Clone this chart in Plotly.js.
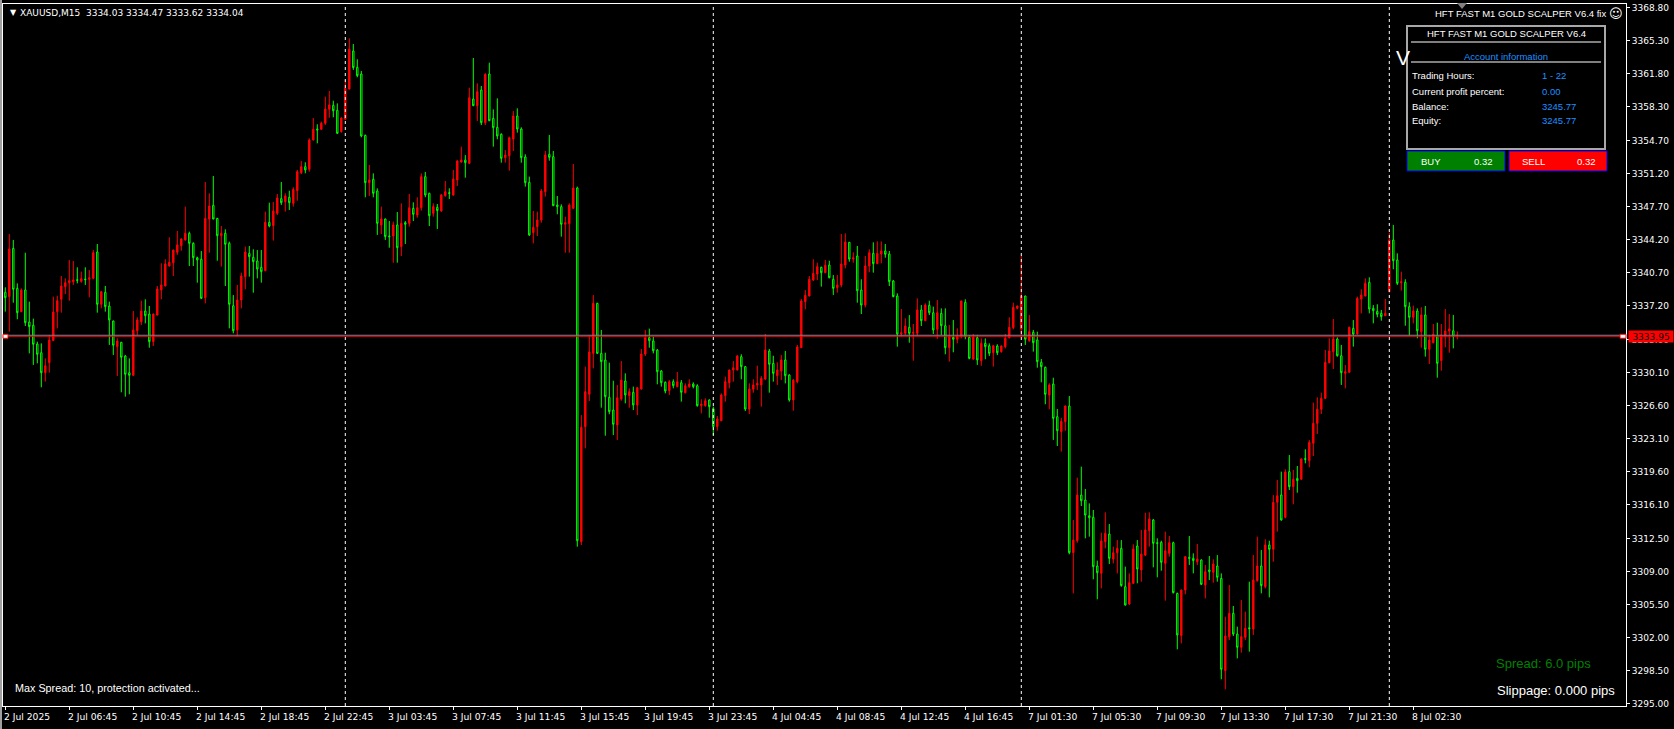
<!DOCTYPE html>
<html><head><meta charset="utf-8">
<script src="https://cdn.plot.ly/plotly-3.0.1.min.js"></script>
<style>html,body{margin:0;padding:0;background:#000;overflow:hidden}#chart{width:1674px;height:729px}</style>
</head><body><div id="chart"></div>
<script>
// XAUUSD M15 candles (bar index 0 = first visible bar)
const barOpen = [
3338.61,3338.15,3343.27,3339.03,3336.56,3338.86,3335.46,3335.11,3333.13,3332.21,
3330.09,3331.15,3333.49,3336.56,3337.87,3339.21,3339.63,3339.74,3339.95,3339.77,
3340.02,3339.99,3340.09,3342.88,3337.34,3338.61,3337.16,3335.57,3332.85,3333.31,
3331.86,3330.09,3329.81,3334.54,3335.50,3336.63,3336.31,3333.38,3336.20,3338.86,
3339.28,3341.40,3341.75,3342.85,3343.55,3344.16,3344.86,3343.80,3342.28,3342.11,
3338.04,3346.38,3347.83,3346.45,3344.61,3344.86,3343.80,3337.19,3334.62,3337.79,
3340.27,3342.74,3342.32,3341.93,3341.26,3340.90,3346.03,3345.67,3346.98,3348.54,
3348.22,3348.68,3348.04,3349.38,3351.29,3351.93,3351.65,3354.76,3355.92,3355.89,
3356.52,3358.01,3358.43,3357.90,3355.64,3356.95,3360.16,3364.19,3362.46,3361.75,
3355.25,3350.23,3350.59,3349.35,3345.75,3346.38,3344.58,3344.58,3345.75,3343.45,
3345.99,3345.92,3347.51,3346.80,3347.58,3350.87,3349.10,3346.98,3347.62,3347.23,
3348.85,3349.17,3348.92,3350.52,3352.42,3352.63,3352.28,3359.10,3358.39,3360.05,
3356.59,3361.75,3357.05,3356.10,3355.36,3352.88,3353.09,3354.86,3357.30,3355.92,
3352.95,3350.27,3344.93,3345.57,3346.27,3349.28,3353.24,3352.99,3347.86,3347.69,
3345.82,3345.89,3347.51,3349.67,3312.18,3324.37,3327.80,3332.14,3337.44,3332.14,
3331.43,3327.48,3326.13,3324.55,3327.30,3329.21,3327.66,3328.01,3326.67,3328.36,
3332.07,3333.80,3333.45,3332.49,3330.27,3329.07,3328.19,3329.14,3328.61,3329.03,
3327.97,3328.61,3328.89,3328.71,3326.59,3326.59,3327.19,3326.28,3324.37,3325.00,
3327.66,3329.03,3330.38,3330.38,3331.79,3330.73,3326.24,3328.33,3328.79,3328.79,
3329.42,3332.39,3331.08,3329.77,3330.27,3331.44,3329.84,3327.20,3329.14,3332.74,
3337.62,3338.22,3339.91,3340.55,3341.26,3340.69,3341.50,3339.99,3339.10,3339.39,
3341.50,3343.91,3342.14,3342.46,3338.85,3337.26,3341.40,3342.74,3341.65,3342.67,
3342.99,3342.67,3339.81,3338.22,3334.19,3334.26,3334.90,3334.26,3334.26,3336.74,
3335.60,3337.23,3336.45,3334.69,3336.38,3335.07,3332.74,3333.84,3333.63,3333.91,
3337.55,3333.84,3331.54,3333.80,3331.36,3333.20,3332.95,3332.21,3332.92,3332.32,
3332.85,3333.80,3334.86,3336.91,3334.72,3338.22,3333.48,3334.37,3333.56,3331.19,
3330.66,3327.72,3328.89,3325.43,3323.84,3324.90,3326.56,3311.01,3312.28,3317.12,
3316.59,3314.93,3314.76,3309.60,3308.82,3312.18,3312.99,3310.34,3311.01,3311.47,
3307.41,3305.57,3307.76,3311.72,3309.18,3310.76,3313.35,3314.48,3312.07,3312.11,
3309.88,3310.94,3312.07,3306.70,3302.22,3307.05,3310.52,3310.41,3310.06,3310.24,
3307.59,3309.18,3308.93,3309.60,3308.29,3298.51,3302.11,3304.58,3302.39,3300.98,
3302.04,3303.06,3302.92,3308.04,3309.60,3307.41,3311.83,3311.37,3316.35,3317.13,
3314.76,3319.60,3318.01,3318.89,3318.79,3320.98,3320.76,3322.60,3324.72,3326.21,
3327.37,3331.15,3332.32,3333.66,3331.89,3330.02,3330.13,3334.79,3334.19,3337.90,
3338.22,3339.67,3336.91,3336.59,3336.38,3336.13,3338.68,3344.15,3342.04,3339.63,
3339.67,3337.09,3335.96,3336.63,3334.44,3336.21,3332.57,3333.27,3334.01,3331.37,
3333.91,3334.51,3334.54,3334.03];
const barHigh = [
3339.14,3344.79,3344.16,3339.56,3339.03,3342.81,3337.62,3335.82,3333.38,3333.20,
3331.61,3334.09,3338.15,3338.25,3340.34,3340.09,3342.04,3341.93,3341.26,3340.80,
3341.26,3340.97,3343.09,3343.73,3338.70,3339.28,3337.62,3335.60,3333.73,3333.35,
3331.97,3331.61,3336.63,3335.96,3337.72,3337.87,3337.16,3336.35,3339.28,3341.68,
3342.11,3344.44,3343.12,3345.11,3344.33,3347.69,3345.04,3343.91,3342.39,3342.99,
3350.30,3349.10,3350.94,3346.50,3345.64,3345.29,3343.98,3338.32,3339.39,3340.69,
3343.45,3343.52,3343.17,3343.09,3343.09,3347.16,3348.11,3348.18,3349.03,3350.30,
3349.10,3349.38,3349.74,3351.58,3352.53,3352.39,3354.93,3357.09,3356.42,3356.70,
3359.35,3359.95,3358.92,3358.64,3357.16,3361.12,3365.53,3364.93,3363.31,3362.07,
3355.32,3352.11,3351.22,3349.63,3347.69,3346.42,3346.17,3346.10,3347.12,3348.04,
3346.17,3349.03,3348.15,3348.68,3351.22,3351.36,3349.17,3348.04,3347.97,3349.03,
3350.41,3349.63,3351.58,3352.63,3354.05,3353.16,3360.30,3363.45,3360.76,3360.48,
3361.82,3362.95,3358.00,3359.17,3355.46,3353.69,3355.11,3357.83,3358.11,3356.10,
3353.24,3350.87,3347.23,3347.16,3349.56,3353.59,3355.29,3353.59,3348.82,3347.93,
3346.63,3348.04,3352.21,3349.81,3325.60,3330.73,3334.08,3338.32,3337.50,3334.62,
3332.21,3331.15,3329.24,3328.78,3331.33,3330.02,3328.43,3328.61,3328.55,3332.60,
3334.62,3334.76,3333.91,3332.60,3330.37,3329.17,3329.31,3329.38,3330.16,3329.31,
3328.96,3329.38,3329.07,3328.86,3327.27,3327.37,3327.27,3326.49,3325.50,3327.90,
3329.67,3330.42,3331.33,3331.96,3332.04,3330.80,3328.96,3329.39,3330.83,3329.74,
3334.19,3332.60,3331.89,3331.19,3331.96,3332.39,3329.92,3329.42,3333.03,3337.90,
3338.85,3340.34,3342.11,3341.75,3341.33,3342.04,3341.96,3340.44,3340.44,3344.79,
3344.86,3343.95,3342.85,3343.52,3339.99,3342.46,3343.17,3343.91,3344.01,3344.01,
3343.73,3342.99,3339.91,3338.50,3336.84,3335.85,3336.20,3335.25,3337.97,3337.26,
3337.44,3337.72,3337.09,3337.79,3336.91,3336.91,3335.14,3335.67,3334.79,3337.72,
3337.87,3334.09,3334.19,3334.09,3333.73,3333.73,3333.20,3333.03,3333.10,3332.99,
3334.19,3335.96,3337.51,3337.20,3342.49,3338.25,3336.20,3334.62,3334.44,3331.54,
3330.73,3328.96,3329.56,3326.24,3325.32,3326.60,3327.62,3314.48,3318.96,3320.13,
3317.76,3316.24,3315.54,3310.17,3313.13,3315.29,3314.05,3311.65,3312.35,3312.35,
3309.53,3308.82,3311.90,3312.35,3313.42,3315.25,3315.29,3314.58,3312.53,3312.28,
3313.24,3312.78,3312.18,3306.77,3307.10,3310.66,3312.78,3310.94,3311.93,3310.30,
3309.71,3310.66,3310.31,3310.76,3308.82,3304.23,3307.59,3305.36,3303.17,3306.00,
3304.76,3307.94,3310.76,3312.71,3311.29,3312.43,3312.28,3317.13,3318.72,3319.60,
3319.85,3321.37,3319.78,3320.20,3321.01,3321.97,3322.95,3326.91,3327.48,3327.97,
3332.50,3333.73,3335.78,3333.84,3333.03,3330.90,3334.97,3335.67,3338.15,3338.93,
3340.09,3340.20,3337.26,3337.34,3336.74,3337.90,3344.93,3345.75,3342.74,3340.80,
3339.99,3337.55,3337.20,3336.91,3337.02,3337.16,3334.09,3335.25,3335.39,3335.25,
3336.84,3336.31,3336.21,3334.47];
const barLow = [
3336.56,3334.44,3337.51,3335.75,3336.50,3335.04,3332.14,3330.91,3331.08,3328.54,
3329.14,3330.09,3333.45,3334.79,3336.45,3338.43,3337.72,3339.39,3339.56,3339.63,
3339.39,3338.08,3339.99,3336.45,3336.91,3336.56,3333.03,3331.97,3329.74,3328.01,
3327.55,3327.80,3329.75,3334.09,3335.15,3335.32,3332.74,3332.92,3336.15,3337.87,
3339.25,3341.35,3340.34,3342.57,3343.02,3344.10,3341.40,3341.40,3339.63,3337.92,
3337.44,3342.81,3346.35,3341.96,3341.33,3339.28,3334.79,3334.26,3333.91,3336.91,
3338.93,3340.27,3338.57,3340.09,3339.63,3340.85,3345.50,3344.09,3346.80,3347.87,
3347.16,3347.34,3347.69,3348.32,3351.15,3351.22,3351.40,3354.70,3354.40,3355.82,
3356.35,3357.12,3357.16,3355.42,3355.53,3356.90,3360.10,3362.18,3361.40,3355.04,
3348.68,3348.82,3348.68,3344.69,3344.79,3344.16,3343.34,3341.75,3341.75,3342.46,
3343.73,3345.57,3346.17,3346.52,3347.27,3348.68,3345.64,3346.63,3345.32,3347.16,
3348.75,3348.50,3348.85,3349.88,3352.35,3350.76,3352.20,3358.35,3356.77,3356.34,
3356.34,3356.75,3354.05,3354.83,3352.35,3352.35,3351.50,3353.59,3355.53,3352.35,
3349.81,3344.58,3343.80,3344.58,3345.99,3348.75,3352.56,3347.75,3346.88,3344.51,
3342.81,3342.81,3347.45,3311.65,3311.82,3322.07,3327.09,3330.55,3332.07,3326.38,
3323.41,3325.68,3323.48,3322.96,3327.12,3326.84,3326.38,3326.13,3325.60,3328.30,
3331.86,3332.74,3332.14,3328.86,3328.61,3327.90,3327.73,3328.43,3328.55,3327.02,
3327.90,3328.50,3328.43,3326.49,3325.78,3326.49,3325.32,3323.48,3323.94,3324.95,
3327.02,3328.43,3329.14,3330.33,3329.39,3326.03,3325.71,3327.97,3328.26,3326.49,
3329.31,3327.97,3329.14,3328.79,3329.31,3328.96,3327.02,3326.06,3328.96,3332.70,
3336.81,3338.18,3339.81,3339.91,3339.21,3340.65,3340.09,3338.33,3338.57,3339.14,
3341.15,3341.86,3341.75,3337.51,3336.31,3337.02,3340.73,3340.69,3341.60,3341.68,
3342.28,3339.28,3338.08,3332.85,3333.91,3334.09,3333.27,3331.36,3333.98,3335.04,
3335.57,3336.20,3334.19,3333.66,3334.09,3332.04,3331.26,3332.25,3333.20,3333.73,
3333.63,3331.51,3331.44,3330.91,3330.83,3331.51,3331.86,3330.73,3331.96,3332.21,
3332.67,3333.73,3334.69,3336.81,3333.80,3333.03,3333.38,3332.32,3330.62,3329.07,
3326.74,3326.21,3322.96,3322.32,3321.72,3323.94,3310.84,3306.70,3312.07,3315.96,
3312.53,3312.71,3308.19,3306.07,3307.23,3311.47,3309.81,3309.88,3308.82,3307.41,
3305.40,3305.47,3307.70,3307.76,3307.94,3310.66,3311.65,3309.46,3308.40,3309.10,
3305.93,3310.59,3306.70,3300.77,3301.40,3306.60,3309.71,3308.82,3309.71,3307.59,
3306.17,3308.11,3307.83,3307.94,3297.59,3296.53,3301.75,3302.18,3299.81,3300.41,
3301.75,3300.52,3302.29,3307.94,3306.70,3307.23,3306.28,3310.06,3313.24,3314.41,
3314.65,3317.66,3316.14,3317.37,3318.75,3320.48,3320.06,3321.26,3323.59,3325.71,
3327.30,3331.08,3330.48,3331.79,3328.79,3328.43,3330.09,3332.85,3334.15,3336.38,
3338.18,3336.38,3335.32,3335.96,3335.60,3336.10,3338.60,3341.05,3339.39,3338.79,
3335.07,3334.01,3335.32,3333.73,3332.74,3331.79,3331.01,3333.20,3329.56,3330.30,
3332.78,3332.21,3332.67,3333.62];
const barClose = [
3338.04,3343.20,3338.93,3336.45,3338.86,3335.39,3334.97,3333.10,3332.04,3330.09,
3330.83,3333.56,3336.52,3337.72,3339.28,3339.63,3339.85,3339.92,3339.88,3340.06,
3339.95,3340.16,3342.81,3337.34,3338.68,3337.09,3335.68,3333.00,3333.45,3331.72,
3329.92,3329.81,3334.62,3335.68,3336.63,3336.13,3333.38,3336.31,3338.96,3339.39,
3341.61,3341.79,3343.09,3343.63,3344.26,3344.86,3343.80,3342.28,3342.04,3337.97,
3346.45,3347.76,3346.38,3344.61,3344.86,3343.70,3337.34,3334.54,3337.79,3340.34,
3342.88,3342.39,3341.86,3341.08,3340.80,3346.03,3345.64,3347.23,3348.61,3348.11,
3348.82,3348.11,3349.52,3351.40,3351.93,3351.58,3354.76,3355.89,3355.82,3356.52,
3358.04,3358.47,3357.86,3355.46,3357.09,3360.23,3364.37,3362.42,3361.57,3355.18,
3350.23,3350.52,3349.10,3345.92,3346.38,3344.51,3344.51,3345.75,3343.34,3345.92,
3345.82,3347.58,3346.88,3347.58,3350.87,3348.92,3346.73,3347.69,3347.27,3348.92,
3349.28,3349.10,3350.62,3352.53,3352.63,3352.35,3359.24,3358.39,3359.88,3356.59,
3361.72,3356.80,3356.06,3355.18,3352.81,3353.16,3355.00,3357.30,3355.92,3352.88,
3350.23,3344.69,3345.50,3346.27,3349.35,3353.16,3352.92,3347.79,3347.69,3345.82,
3345.99,3347.86,3349.67,3312.28,3324.30,3328.08,3332.28,3337.44,3332.14,3331.26,
3327.55,3325.96,3324.62,3327.44,3329.31,3327.73,3328.08,3326.67,3328.50,3332.07,
3333.80,3333.48,3332.42,3330.20,3329.03,3328.15,3329.14,3328.71,3329.14,3328.01,
3328.71,3328.89,3328.61,3326.59,3326.77,3327.12,3326.49,3324.37,3325.18,3327.73,
3329.14,3330.37,3330.62,3331.86,3330.73,3326.24,3328.36,3328.79,3328.96,3329.49,
3332.50,3330.98,3330.02,3330.38,3331.44,3329.77,3327.20,3329.31,3332.81,3337.69,
3338.29,3339.99,3340.62,3341.33,3340.69,3341.47,3340.16,3339.03,3339.39,3341.61,
3343.94,3342.14,3342.28,3338.78,3337.26,3341.40,3342.81,3341.65,3342.74,3342.99,
3342.64,3339.74,3338.15,3334.19,3334.33,3335.04,3334.26,3334.37,3336.74,3335.60,
3337.26,3336.45,3334.62,3336.45,3335.07,3332.74,3333.91,3333.63,3333.98,3337.69,
3333.91,3331.61,3333.84,3331.44,3333.20,3332.85,3332.14,3332.95,3332.21,3332.92,
3333.73,3334.90,3337.02,3337.16,3338.22,3333.63,3334.44,3333.27,3331.26,3330.73,
3327.80,3328.79,3325.25,3323.94,3324.93,3326.56,3311.01,3312.35,3317.12,3316.52,
3315.00,3314.72,3309.53,3308.89,3312.25,3313.06,3310.41,3311.01,3311.47,3307.52,
3305.47,3307.83,3311.40,3309.28,3310.87,3313.42,3314.58,3312.00,3312.00,3309.99,
3311.22,3312.07,3306.77,3302.29,3307.05,3310.59,3310.41,3310.17,3310.34,3307.66,
3309.00,3309.00,3309.81,3308.40,3298.65,3302.18,3304.58,3302.39,3300.98,3302.11,
3302.99,3302.96,3308.11,3309.60,3307.52,3311.83,3311.37,3316.35,3317.05,3314.48,
3319.56,3318.01,3318.79,3318.65,3320.94,3320.91,3322.71,3324.72,3326.21,3327.37,
3331.19,3332.39,3333.66,3331.89,3330.09,3330.20,3334.90,3334.19,3337.97,3338.33,
3339.56,3336.84,3336.66,3336.28,3336.03,3336.38,3344.15,3341.96,3339.56,3339.74,
3337.09,3335.96,3336.63,3334.54,3336.21,3332.57,3333.55,3334.15,3331.08,3334.09,
3334.51,3334.72,3333.91,3334.04];

// time-axis labels (one every 16 bars = 4 hours)
const tickLabels = ["2 Jul 2025","2 Jul 06:45","2 Jul 10:45","2 Jul 14:45","2 Jul 18:45","2 Jul 22:45",
  "3 Jul 03:45","3 Jul 07:45","3 Jul 11:45","3 Jul 15:45","3 Jul 19:45","3 Jul 23:45",
  "4 Jul 04:45","4 Jul 08:45","4 Jul 12:45","4 Jul 16:45","7 Jul 01:30","7 Jul 05:30",
  "7 Jul 09:30","7 Jul 13:30","7 Jul 17:30","7 Jul 21:30","8 Jul 02:30"];
const tickStep = 16;
const priceTicks = [3368.80,3365.30,3361.80,3358.30,3354.70,3351.20,3347.70,3344.20,3340.70,3337.20,
  3333.60,3330.10,3326.60,3323.10,3319.60,3316.10,3312.50,3309.00,3305.50,3302.00,3298.50,3295.00];
const daySeparators = [85, 177, 254, 346];   // first bar of each new trading day
const bidPrice = 3333.95;
const headerText = "XAUUSD,M15  3334.03 3334.47 3333.62 3334.04";
const panelRows = ["Trading Hours:", "Current profit percent:", "Balance:", "Equity:"];
const panelValues = ["1 - 22", "0.00", "3245.77", "3245.77"];
const lotSize = "0.32";

const barIndex = barOpen.map((_, i) => i);
const tickBars = tickLabels.map((_, i) => i * tickStep);

// plot frame in pixels
const PL = 3, PR = 1626, PT = 4, PB = 706;
const fx = p => (p - PL) / (PR - PL);
const fy = p => (PB - p) / (PB - PT);
const yRange = [3294.76, 3369.17];
const pricePerPx = (yRange[1] - yRange[0]) / (PB - PT);

const WHITE = '#ffffff', BLUE = '#1e90ff';
const tahoma = 'DejaVu Sans, Tahoma, sans-serif';
const arial = 'Liberation Sans, Arial, sans-serif';

const trace = {
  type: 'candlestick', x: barIndex, open: barOpen, high: barHigh, low: barLow, close: barClose,
  increasing: {line: {color: '#ff0000', width: 1}, fillcolor: '#ff0000'},
  decreasing: {line: {color: '#00ff00', width: 1}, fillcolor: '#000000'},
  whiskerwidth: 0, hoverinfo: 'skip', showlegend: false
};

const shapes = [];
shapes.push({type:'rect', xref:'paper', yref:'paper', x0: fx(0), x1: fx(2), y0: fy(729), y1: fy(0),
  fillcolor:'#a0a0a0', line:{width:0}, layer:'below'});
daySeparators.forEach(b => shapes.push({type:'line', xref:'x', yref:'paper', x0:b, x1:b, y0:0, y1:1,
  line:{color: WHITE, width:1, dash:'3px,3px'}}));
shapes.push({type:'line', xref:'paper', yref:'y', x0:0, x1:1, y0: bidPrice + pricePerPx, y1: bidPrice + pricePerPx,
  line:{color:'#7f8fa8', width:1}});
shapes.push({type:'line', xref:'paper', yref:'y', x0:0, x1:1, y0: bidPrice, y1: bidPrice,
  line:{color:'#ff0000', width:1}});
[[3, 8], [1620, 1626]].forEach(([a, b]) => shapes.push({type:'rect', xref:'paper', yref:'y',
  x0: fx(a), x1: fx(b), y0: bidPrice - 2*pricePerPx, y1: bidPrice + 2*pricePerPx,
  fillcolor: WHITE, line:{color:'#ff0000', width:1}}));
shapes.push({type:'path', xref:'paper', yref:'paper',
  path:`M ${fx(1457)} ${fy(3)} L ${fx(1467)} ${fy(3)} L ${fx(1462)} ${fy(9)} Z`,
  fillcolor:'#808080', line:{width:0}});
shapes.push({type:'rect', xref:'paper', yref:'paper', x0: fx(1407), x1: fx(1605), y0: fy(149), y1: fy(26),
  fillcolor:'#000000', line:{color:'#a8a8a8', width:2}});
[42, 62].forEach(yy => shapes.push({type:'line', xref:'paper', yref:'paper', x0: fx(1411), x1: fx(1601),
  y0: fy(yy), y1: fy(yy), line:{color: WHITE, width:1}}));
shapes.push({type:'rect', xref:'paper', yref:'paper', x0: fx(1407), x1: fx(1505), y0: fy(171), y1: fy(151),
  fillcolor:'#008000', line:{color:'#0000ff', width:1}});
shapes.push({type:'rect', xref:'paper', yref:'paper', x0: fx(1509), x1: fx(1607), y0: fy(171), y1: fy(151),
  fillcolor:'#ff0000', line:{color:'#0000ff', width:1}});

const ann = [];
const txt = (text, x, y, opts) => ann.push(Object.assign({text, xref:'paper', yref:'paper', x: fx(x), y: fy(y),
  xanchor:'left', yanchor:'middle', showarrow:false, font:{family: arial, size: 9.5, color: WHITE}}, opts || {}));

tickBars.forEach((b, i) => ann.push({text: tickLabels[i], xref:'x', yref:'paper', x: b, y: 0, xanchor:'left',
  yanchor:'top', xshift: -3, yshift: -3, showarrow:false, font:{family: tahoma, size: 9.2, color: WHITE}}));

txt('▼', 8, 13, {font:{family: tahoma, size: 8, color: WHITE}});
txt(headerText, 18, 13, {font:{family: tahoma, size: 9, color: WHITE}});
txt('HFT FAST M1 GOLD SCALPER V6.4 fix', 1608, 14, {xanchor:'right', font:{family: arial, size: 9.5, color: WHITE}});
txt('☺', 1616, 14, {xanchor:'center', font:{family: tahoma, size: 13, color: WHITE}});
txt('V', 1394, 57, {font:{family: arial, size: 21, color: WHITE}});
txt('HFT FAST M1 GOLD SCALPER V6.4', 1506, 34, {xanchor:'center'});
txt('Account information', 1506, 56, {xanchor:'center', font:{family: arial, size: 9.5, color: BLUE}});
panelRows.forEach((r, i) => {
  txt(r, 1410, 76 + 15*i);
  txt(panelValues[i], 1540, 76 + 15*i, {font:{family: arial, size: 9.5, color: BLUE}});
});
txt('BUY', 1419, 161);
txt(lotSize, 1472, 161);
txt('SELL', 1520, 161);
txt(lotSize, 1575, 161);
txt('Max Spread: 10, protection activated...', 13, 688, {font:{family: arial, size: 10.8, color: WHITE}});
txt('Spread: 6.0 pips', 1494, 663, {font:{family: arial, size: 13, color: '#008000'}});
txt('Slippage: 0.000 pips', 1495, 690, {font:{family: arial, size: 13, color: WHITE}});
ann.push({text: bidPrice.toFixed(2), xref:'paper', yref:'y', x: 1, y: bidPrice, xanchor:'left', yanchor:'middle',
  xshift: 2, showarrow:false, bgcolor:'#ff0000', borderpad: 0, width: 44, height: 11,
  font:{family: tahoma, size: 9, color:'#000000'}});

const layout = {
  width: 1674, height: 729,
  margin: {l: PL, r: 1674 - PR, t: PT, b: 729 - PB, pad: 0},
  paper_bgcolor: '#000000', plot_bgcolor: '#000000',
  boxgap: 0.5, showlegend: false,
  xaxis: {range: [-0.575, 405.175], rangeslider: {visible: false}, showgrid: false, zeroline: false,
    tickmode: 'array', tickvals: tickBars, ticktext: tickBars.map(() => ''), ticks: 'outside', ticklen: 3,
    tickcolor: WHITE, showline: true, linecolor: WHITE, linewidth: 1, mirror: true, fixedrange: true},
  yaxis: {range: yRange, side: 'right', showgrid: false, zeroline: false, tickmode: 'array',
    tickvals: priceTicks, tickformat: '.2f', ticks: 'outside', ticklen: 3, tickcolor: WHITE,
    tickfont: {family: tahoma, size: 9, color: WHITE}, showline: true, linecolor: WHITE, linewidth: 1,
    mirror: true, fixedrange: true},
  shapes: shapes, annotations: ann
};
Plotly.newPlot('chart', [trace], layout, {displayModeBar: false, staticPlot: true});
</script>
</body></html>
